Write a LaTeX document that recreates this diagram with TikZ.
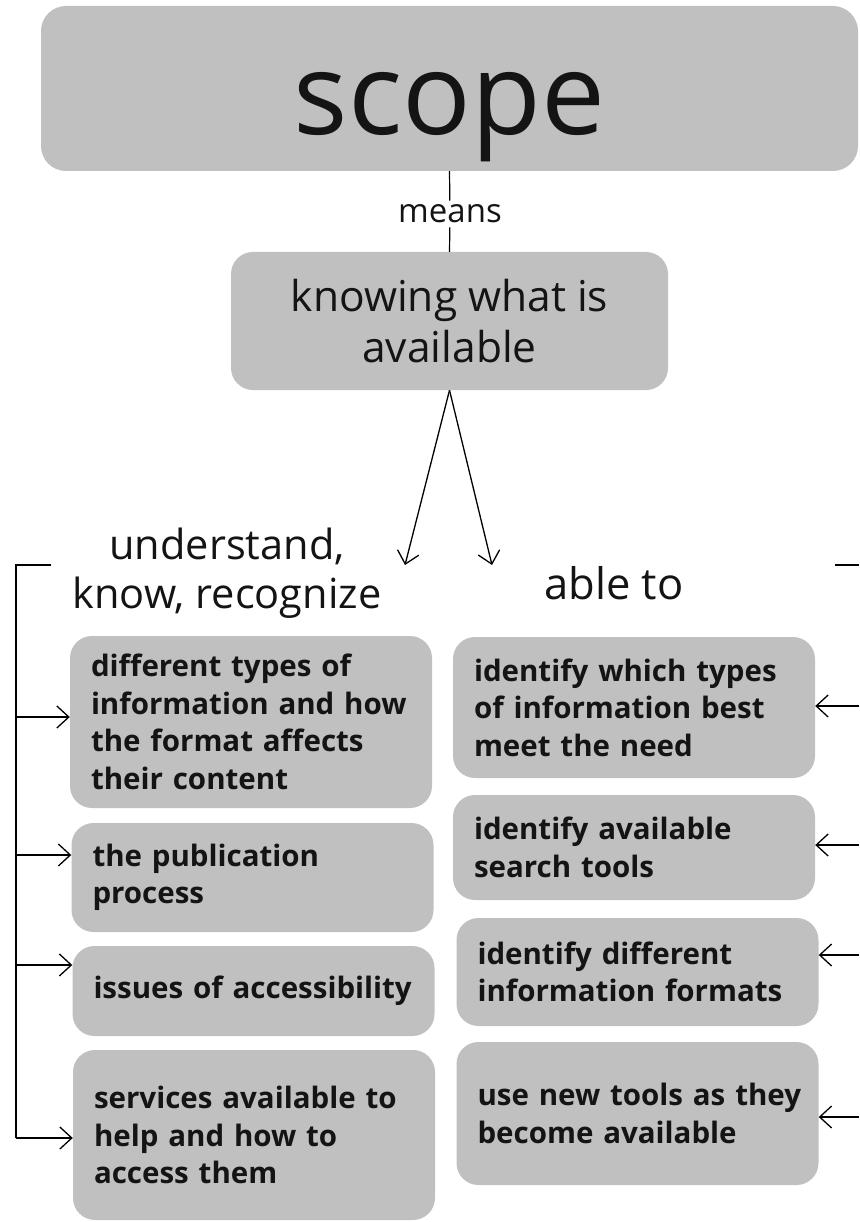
\documentclass[tikz,border=0pt]{standalone}
\usepackage{fontspec}
\setmainfont{Open Sans}
\usetikzlibrary{arrows.meta}
\definecolor{boxgray}{RGB}{192,192,192}
\definecolor{inkblack}{RGB}{20,20,20}

\begin{document}
\begin{tikzpicture}[x=1pt, y=-1pt, text=inkblack,
    box/.style={fill=boxgray, rounded corners=22pt, inner xsep=21pt, inner ysep=0pt,
      text width=320pt, align=left, font=\bfseries\fontsize{29.5}{37.5}\selectfont},
    arr/.style={-{Straight Barb[length=12pt,width=22pt]}, line width=1.3pt}]
    \useasboundingbox (0,0) rectangle (859,1222);
    \clip (0,0) rectangle (859,1222);

    % Draw top concepts
    \node[fill=boxgray, rounded corners=25pt, minimum width=817pt, minimum height=165pt,
      inner sep=0pt, text height=92pt, text depth=0pt,
      font=\fontsize{114}{120}\selectfont] (scope) at (449.5,88.5) {scope};
    \node[fill=boxgray, rounded corners=22pt, minimum width=437pt, minimum height=138pt,
      inner sep=0pt, align=center, font=\fontsize{42.5}{51}\selectfont] (know) at (449.5,321)
      {knowing what is\\available};
    \node[inner sep=4pt, font=\fontsize{33}{36}\selectfont] (means) at (450,214) {means};
    \draw[line width=1.2pt] (scope.south) -- (means) -- (know.north);

    % Draw the two branches
    \coordinate (ukrtip) at (405,565);
    \coordinate (abletip) at (492,565);
    \draw[arr] (know.south) -- (ukrtip);
    \draw[arr] (know.south) -- (abletip);
    \node[align=center, font=\fontsize{41.5}{49}\selectfont] (ukr) at (227,573)
      {understand,\\know, recognize};
    \node[font=\fontsize{43.5}{49}\selectfont] (able) at (614,583) {able to};

    % Left column
    \node[box, minimum height=172pt] (ukr1) at (251,722)
      {different types of\\\mbox{information and how}\\the format affects\\their content};
    \node[box, minimum height=109pt] (ukr2) at (252.5,877.5)
      {the publication\\process};
    \node[box, minimum height=90pt] (ukr3) at (253.5,991)
      {\mbox{issues of accessibility}};
    \node[box, minimum height=170pt] (ukr4) at (254,1135)
      {services available to\\help and how to\\access them};

    % Right column
    \node[box, minimum height=141pt] (able1) at (634,707.5)
      {identify which types\\of information best\\meet the need};
    \node[box, minimum height=105pt] (able2) at (634,847.5)
      {identify available\\search tools};
    \node[box, minimum height=108pt] (able3) at (637.5,972)
      {identify different\\\mbox{information formats}};
    \node[box, minimum height=143pt] (able4) at (637.5,1113.5)
      {\mbox{use new tools as they}\\become available};

    % Left bracket with arrows
    \coordinate (lbtop) at (51,565);
    \coordinate (lbcorner) at (16,565);
    \coordinate (lbbot) at (16,1138);
    \draw[line width=1.3pt] (lbtop) -- (lbcorner) -- (lbbot);
    \foreach \n/\yy in {1/717, 2/855, 3/965, 4/1138} {
      \coordinate (lb\n) at (16,\yy);
      \draw[arr] (lb\n) -- (ukr\n.west |- lb\n);
    }

    % Right bracket with arrows
    \coordinate (rbtop) at (835,565);
    \coordinate (rbedge) at (859,565);
    \draw[line width=1.3pt] (rbtop) -- (rbedge);
    \foreach \n/\yy in {1/706, 2/845, 3/955, 4/1117} {
      \coordinate (rb\n) at (859,\yy);
      \draw[arr] (rb\n) -- (able\n.east |- rb\n);
    }
\end{tikzpicture}
\end{document}
